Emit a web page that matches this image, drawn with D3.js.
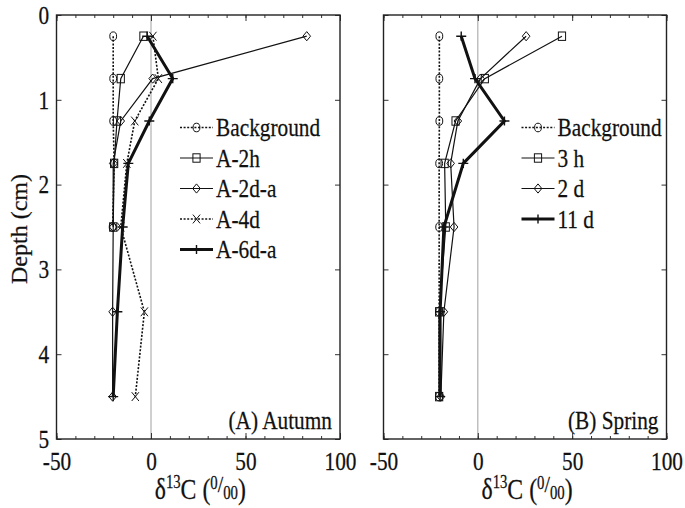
<!DOCTYPE html>
<html>
<head>
<meta charset="utf-8">
<script src="https://cdn.jsdelivr.net/npm/d3@7"></script>
<style>
  body { margin: 0; background: #fff; }
  text { font-family: "Liberation Serif", "Times New Roman", serif; fill: #111; stroke: #111; stroke-width: 0.25; }
</style>
</head>
<body>
<svg id="chart" width="685" height="508"></svg>
<script>
// depths (cm) of the cores
var depths = [0.25, 0.75, 1.25, 1.75, 2.5, 3.5, 4.5];

// (A) Autumn, delta13C per depth (null = not measured)
var autumnBackground = [-20, -20, -20, -19.5, -20.3, null, null];
var autumnA2h        = [-4, -16, -18, -19.5, -20, null, null];
var autumnA2da       = [82.4, 0.9, -16, -20, -20, -20.3, -20.3];
var autumnA4d        = [1, 3.9, -8.6, -12.8, -16, -3.5, -8.3];
var autumnA6da       = [-2, 11.5, -0.9, -12, -15, -17.8, -20];

// (B) Spring
var springBackground = [-20.4, -20.4, -20.4, -20.5, -20.5, -20.5, -20.5];
var spring3h         = [44.6, 3.7, -11.8, -17.6, -17, -20.5, -20.5];
var spring2d         = [25.6, 1.4, -10.6, -14.4, -12.6, -18, -19.6];
var spring11d        = [-8.8, -1.5, 14.1, -7.7, -18, -20, -20];

var xMajorTicks = [-50, 0, 50, 100];
var xMinorTicks = [-50, -40, -30, -20, -10, 0, 10, 20, 30, 40, 50, 60, 70, 80, 90, 100];
var yTicks = [0, 1, 2, 3, 4, 5];

var squeeze = 0.82;   // the scanned figure is narrower than it is tall

var styles = {
  background: {marker: "circle",  dash: "2,1.6", width: 1.6},
  h:          {marker: "square",  dash: null,    width: 1.2},
  d:          {marker: "diamond", dash: null,    width: 1.2},
  x:          {marker: "cross",   dash: "2,1.6", width: 1.6},
  thick:      {marker: "plus",    dash: null,    width: 3}
};

var panels = [
  {left: 56.5, right: 340, label: "(A) Autumn", legendX: 180,
   series: [
     {name: "Background", values: autumnBackground, style: styles.background},
     {name: "A-2h",       values: autumnA2h,        style: styles.h},
     {name: "A-2d-a",     values: autumnA2da,       style: styles.d},
     {name: "A-4d",       values: autumnA4d,        style: styles.x},
     {name: "A-6d-a",     values: autumnA6da,       style: styles.thick}
   ]},
  {left: 383.5, right: 666.5, label: "(B) Spring", legendX: 521.5,
   series: [
     {name: "Background", values: springBackground, style: styles.background},
     {name: "3 h",        values: spring3h,         style: styles.h},
     {name: "2 d",        values: spring2d,         style: styles.d},
     {name: "11 d",       values: spring11d,        style: styles.thick}
   ]}
];

var svg = d3.select("#chart"),
    yTop = 15, yBottom = 439;

var y = d3.scaleLinear().domain([0, 5]).range([yTop, yBottom]);

function marker(g, type, cx, cy) {
  var m;
  if (type == "circle") {
    m = g.append("ellipse").attr("cx", cx).attr("cy", cy).attr("rx", 3.4).attr("ry", 4.3);
  } else if (type == "square") {
    m = g.append("rect").attr("x", cx - 3.6).attr("y", cy - 4.2).attr("width", 7.2).attr("height", 8.4);
  } else {
    var p = {
      diamond: "M0,-4.6L3.8,0L0,4.6L-3.8,0Z",
      cross: "M-3.6,-4.4L3.6,4.4M-3.6,4.4L3.6,-4.4",
      plus: "M-5,0H5M0,-4.6V4.6"
    }[type];
    m = g.append("path").attr("transform", "translate(" + cx + "," + cy + ")").attr("d", p);
  }
  m.attr("fill", "none").attr("stroke", "#111").attr("stroke-width", type == "plus" ? 1.4 : 1);
}

function squeezeText(sel) {
  sel.each(function() {
    var t = d3.select(this);
    t.attr("transform", (t.attr("transform") || "") + " scale(" + squeeze + ",1)");
  });
}

panels.forEach(function(p) {
  var x = d3.scaleLinear().domain([-50, 100]).range([p.left, p.right]);
  var g = svg.append("g");

  // zero line
  g.append("line")
      .attr("x1", x(0)).attr("x2", x(0))
      .attr("y1", yTop).attr("y2", yBottom)
      .attr("stroke", "#888").attr("stroke-width", 0.8);

  // frame ticks
  g.append("g").attr("transform", "translate(0," + yBottom + ")")
      .call(d3.axisBottom(x).tickValues(xMinorTicks).tickSize(-3).tickFormat(""));
  g.append("g").attr("transform", "translate(0," + yTop + ")")
      .call(d3.axisTop(x).tickValues(xMinorTicks).tickSize(-3).tickFormat(""));
  g.append("g").attr("transform", "translate(0," + yTop + ")")
      .call(d3.axisTop(x).tickValues(xMajorTicks).tickSize(-6).tickFormat(""));
  g.append("g").attr("transform", "translate(0," + yBottom + ")")
      .call(d3.axisBottom(x).tickValues(xMajorTicks).tickSize(-6).tickPadding(13)
        .tickFormat(function(d) { return d < 0 ? "-" + Math.abs(d) : d; }));
  g.append("g").attr("transform", "translate(" + p.left + ",0)")
      .call(d3.axisLeft(y).tickValues(yTicks).tickSize(-5).tickPadding(9)
        .tickFormat(p.left < 100 ? d3.format("d") : ""));
  g.append("g").attr("transform", "translate(" + p.right + ",0)")
      .call(d3.axisRight(y).tickValues(yTicks).tickSize(-5).tickFormat(""));

  g.selectAll(".domain").remove();
  g.selectAll(".tick line").attr("stroke", "#333").attr("stroke-width", 1);
  g.selectAll(".tick text")
      .attr("font-family", "Liberation Serif, serif")
      .attr("font-size", 26).attr("fill", "#111");
  squeezeText(g.selectAll(".tick text"));

  g.append("rect")
      .attr("x", p.left).attr("y", yTop)
      .attr("width", p.right - p.left).attr("height", yBottom - yTop)
      .attr("fill", "none").attr("stroke", "#222").attr("stroke-width", 1.4);

  // series
  p.series.forEach(function(s) {
    var pts = depths.map(function(d, i) { return {depth: d, v: s.values[i]}; })
      .filter(function(d) { return d.v != null; });
    var line = d3.line().x(function(d) { return x(d.v); }).y(function(d) { return y(d.depth); });
    g.append("path")
        .attr("d", line(pts))
        .attr("fill", "none").attr("stroke", "#111")
        .attr("stroke-width", s.style.width)
        .attr("stroke-dasharray", s.style.dash);
    pts.forEach(function(d) { marker(g, s.style.marker, x(d.v), y(d.depth)); });
  });

  // legend
  var legend = g.append("g").selectAll("g")
    .data(p.series)
    .enter().append("g")
      .attr("transform", function(d, i) { return "translate(" + p.legendX + "," + (127.5 + i * 30.5) + ")"; });

  legend.append("line")
      .attr("x1", 0).attr("x2", 33)
      .attr("stroke", "#111")
      .attr("stroke-width", function(d) { return d.style.width; })
      .attr("stroke-dasharray", function(d) { return d.style.dash; });
  legend.each(function(d) { marker(d3.select(this), d.style.marker, 16.5, 0); });
  legend.append("text")
      .attr("transform", "translate(36,8.5) scale(" + squeeze + ",1)")
      .attr("font-size", 26)
      .text(function(d) { return d.name; });

  // panel label
  g.append("text")
      .attr("transform", "translate(" + (p.right - 8) + ",429) scale(" + squeeze + ",1)")
      .attr("text-anchor", "end")
      .attr("font-size", 26)
      .text(p.label);

  // x title: delta13C (0/00)
  var t = g.append("text")
      .attr("transform", "translate(" + ((p.left + p.right) / 2 + 2) + ",499) scale(" + squeeze + ",1)")
      .attr("text-anchor", "middle")
      .attr("font-size", 29);
  t.append("tspan").text("\u03b4");
  t.append("tspan").attr("font-size", 18).attr("dy", -11).text("13");
  t.append("tspan").attr("dy", 11).text("C (");
  t.append("tspan").attr("font-size", 18).attr("dy", -10).text("0");
  t.append("tspan").attr("font-size", 24).attr("dy", 3).text("/");
  t.append("tspan").attr("font-size", 18).attr("dy", 7).text("00");
  t.append("tspan").text(")");
});

// y title
svg.append("text")
    .attr("transform", "translate(27,229) rotate(-90)")
    .attr("text-anchor", "middle")
    .attr("font-size", 24)
    .text("Depth (cm)");
</script>
</body>
</html>
